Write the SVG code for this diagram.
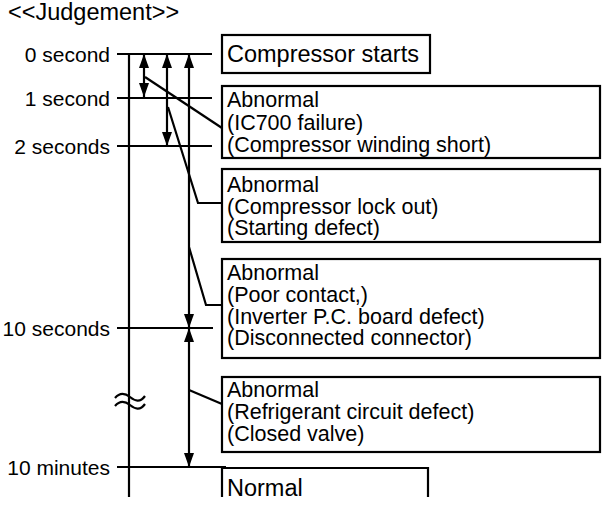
<svg xmlns="http://www.w3.org/2000/svg" width="605" height="506" viewBox="0 0 605 506">
<style>
text{font-family:"Liberation Sans",Arial,sans-serif;fill:#000}
.t{font-size:21.5px}
.big{font-size:23.5px}
.lbl{font-size:21px;text-anchor:end}
.ln{stroke:#000;stroke-width:2.2;fill:none}
.box{stroke:#000;stroke-width:2.2;fill:#fff}
.arr{stroke:#000;stroke-width:2.2;fill:none;marker-start:url(#ah);marker-end:url(#ah)}
</style>
<defs>
<marker id="ah" markerUnits="userSpaceOnUse" markerWidth="15" markerHeight="11" refX="14" refY="5" orient="auto-start-reverse">
<path d="M0,0 L14,5 L0,10 z" fill="#000"/>
</marker>
</defs>
<rect width="605" height="506" fill="#fff"/>
<text x="8" y="20" style="font-size:23.5px">&lt;&lt;Judgement&gt;&gt;</text>
<g id="timeline">
<text class="lbl" x="110" y="61.5">0 second</text>
<text class="lbl" x="110" y="105.5">1 second</text>
<text class="lbl" x="110" y="153.5">2 seconds</text>
<text class="lbl" x="110" y="335.5">10 seconds</text>
<text class="lbl" x="110" y="474.5">10 minutes</text>
<path class="ln" d="M117,54H212M117,98H212M117,146H212M117,328H213M117,467H226M129,54V497"/>
<path class="ln" d="M115,398C120,392 125,393 130,397S140,403 145,396M115,406C120,400 125,401 130,405S140,411 145,404"/>
</g>
<g id="connectors">
<line class="arr" x1="144" y1="54" x2="144" y2="97"/>
<line class="arr" x1="167" y1="54" x2="167" y2="146"/>
<line class="arr" x1="189" y1="54" x2="189" y2="328"/>
<line class="arr" x1="189" y1="328" x2="189" y2="467"/>
<path class="ln" d="M145,77L222,128"/>
<path class="ln" d="M168,107L198,203H222"/>
<path class="ln" d="M189,247L206,305H222"/>
<path class="ln" d="M189,390L222,404"/>
</g>
<g id="start">
<rect class="box" x="222" y="35" width="208" height="38"/>
<text class="big" x="227" y="62">Compressor starts</text>
</g>
<g id="ab1">
<rect class="box" x="222" y="86" width="378" height="72"/>
<text class="t" x="227" y="107">Abnormal</text>
<text class="t" x="227" y="129.5">(IC700 failure)</text>
<text class="t" x="227" y="152">(Compressor winding short)</text>
</g>
<g id="ab2">
<rect class="box" x="222" y="169" width="378" height="73"/>
<text class="t" x="227" y="192">Abnormal</text>
<text class="t" x="227" y="213.5">(Compressor lock out)</text>
<text class="t" x="227" y="235">(Starting defect)</text>
</g>
<g id="ab3">
<rect class="box" x="222" y="259" width="378" height="99"/>
<text class="t" x="227" y="280">Abnormal</text>
<text class="t" x="227" y="302">(Poor contact,)</text>
<text class="t" x="227" y="323.5">(Inverter P.C. board defect)</text>
<text class="t" x="227" y="345">(Disconnected connector)</text>
</g>
<g id="ab4">
<rect class="box" x="222" y="377" width="378" height="75"/>
<text class="t" x="227" y="397">Abnormal</text>
<text class="t" x="227" y="419">(Refrigerant circuit defect)</text>
<text class="t" x="227" y="441">(Closed valve)</text>
</g>
<g id="normal">
<path class="ln" d="M222,497V468H428V497"/>
<text class="big" x="227" y="496">Normal</text>
</g>
</svg>
